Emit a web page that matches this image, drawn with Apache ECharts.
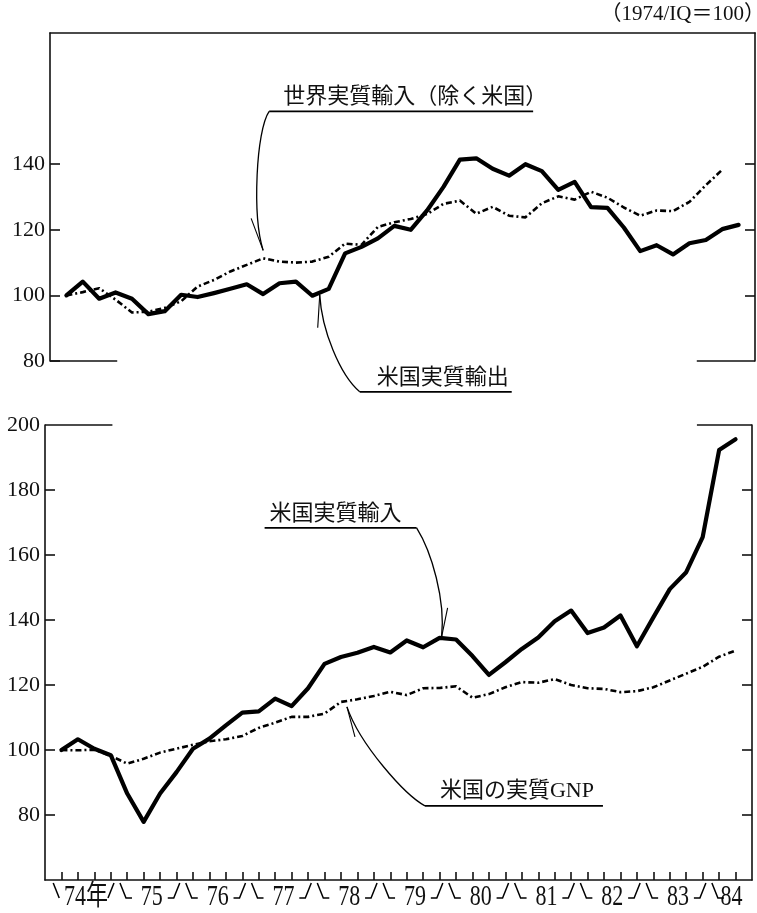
<!DOCTYPE html>
<html><head><meta charset="utf-8">
<script src="https://cdn.jsdelivr.net/npm/echarts@6/dist/echarts.min.js"></script>
<style>html,body{margin:0;padding:0;background:#fff}#c{width:757px;height:913px}</style>
</head><body><div id="c"></div>
<script>
// Quarterly data, 1974 Q1 = 100
const quarters = ['74Q1','74Q2','74Q3','74Q4','75Q1','75Q2','75Q3','75Q4','76Q1','76Q2','76Q3','76Q4',
  '77Q1','77Q2','77Q3','77Q4','78Q1','78Q2','78Q3','78Q4','79Q1','79Q2','79Q3','79Q4',
  '80Q1','80Q2','80Q3','80Q4','81Q1','81Q2','81Q3','81Q4','82Q1','82Q2','82Q3','82Q4',
  '83Q1','83Q2','83Q3','83Q4','84Q1','84Q2'];
// 米国実質輸出 (top, solid)
const usExports = [100,104.2,99,100.9,99,94.3,95.2,100.2,99.5,100.7,102,103.4,
  100.4,103.7,104.2,99.9,102,112.8,114.8,117.4,121.2,120,125.9,133.1,
  141.4,141.8,138.6,136.5,140,137.9,132.2,134.6,126.9,126.7,120.7,113.5,
  115.3,112.5,115.9,116.9,120.2,121.5];
// 世界実質輸入(除く米国) (top, dotted)
const worldImports = [100,101,102.2,98.7,94.8,95,96.2,98.2,102.7,104.7,107.3,109.3,
  111.3,110.3,110,110.3,111.8,115.8,115.4,120.9,122.3,123.3,124.8,127.9,
  128.9,124.9,127,124.3,123.8,128.1,130.2,129.2,131.6,129.8,126.8,124.3,
  125.9,125.7,128.5,133.6,138.3];
// 米国実質輸入 (bottom, solid)
const usImports = [100,103.3,100.4,98.4,86.6,77.9,86.6,93.2,100.4,103.5,107.6,111.5,
  111.9,115.8,113.5,119,126.5,128.6,129.9,131.7,130,133.7,131.6,134.5,
  134,128.9,123.1,127,131.1,134.6,139.6,142.9,136,137.7,141.4,131.9,
  140.8,149.5,154.7,165.5,192.3,195.6];
// 米国の実質GNP (bottom, dotted)
const usGNP = [100,99.9,100.1,98.2,95.8,97.3,99.2,100.4,101.6,102.7,103.3,104.3,
  106.8,108.4,110.2,110.2,111.2,114.8,115.6,116.6,117.9,116.9,119,119.1,
  119.6,116.1,117.2,119.3,120.9,120.7,121.8,120,119,118.8,117.8,118.1,
  119.3,121.4,123.5,125.6,128.7,130.6];
const yearLabels = ['74年','75','76','77','78','79','80','81','82','83','84'];
const topTicks = [80,100,120,140];
const topRightTicks = [100,120,140];
const bottomTicks = [80,100,120,140,160,180];
const bottomLabels = [80,100,120,140,160,180,200];

const INK = '#111';
const SERIF = '"Liberation Serif","Noto Sans CJK JP",serif';
const qIdx = quarters.map((q, i) => i);
const pairs = arr => arr.map((v, i) => [i, v]);
const axisLineStyle = {color: INK, width: 1.6};
const solidStyle = {color: '#000', width: 4.2, join: 'round', cap: 'round'};
const dotStyle = {color: '#000', width: 2.6, type: [6, 3, 2, 3], join: 'round'};
const stubStyle = {color: INK, width: 1.6, type: 'solid'};

const chart = echarts.init(document.getElementById('c'), null, {renderer: 'canvas'});

function yAxisDef(grid, pos, min, max, ticks, labels) {
  return {
    type: 'value', gridIndex: grid, position: pos, min: min, max: max, interval: 20,
    axisLine: {show: true, onZero: false, lineStyle: axisLineStyle},
    axisTick: {show: true, inside: true, length: 10, customValues: ticks, lineStyle: axisLineStyle},
    axisLabel: labels ? {show: true, customValues: labels, color: INK, fontSize: 22, fontFamily: SERIF, margin: 5,
      formatter: v => labels.indexOf(v) >= 0 ? String(v) : ''} : {show: false},
    splitLine: {show: false}
  };
}

const option = {
  animation: false,
  backgroundColor: '#fff',
  title: {text: '（1974/IQ＝100）', right: -8, top: 4, padding: 0,
    textStyle: {fontSize: 21, fontWeight: 'normal', color: INK, fontFamily: SERIF}},
  grid: [
    {left: 50, right: 2, top: 33, height: 328},
    {left: 45, right: 5, top: 425, height: 455}
  ],
  xAxis: [
    {type: 'value', gridIndex: 0, min: -1, max: 42, position: 'top',
      axisLine: {show: true, onZero: false, lineStyle: axisLineStyle},
      axisTick: {show: false}, axisLabel: {show: false}, splitLine: {show: false}},
    {type: 'value', gridIndex: 1, min: -1, max: 42, position: 'bottom',
      axisLine: {show: true, onZero: false, lineStyle: axisLineStyle},
      axisTick: {show: true, inside: true, length: 8, customValues: qIdx, lineStyle: axisLineStyle},
      axisLabel: {show: false}, splitLine: {show: false}}
  ],
  yAxis: [
    yAxisDef(0, 'left', 80, 180, topTicks, topTicks),
    yAxisDef(0, 'right', 80, 180, topRightTicks, null),
    yAxisDef(1, 'left', 60, 200, bottomTicks, bottomLabels),
    yAxisDef(1, 'right', 60, 200, bottomTicks, null)
  ],
  series: [
    {name: '世界実質輸入(除く米国)', type: 'line', xAxisIndex: 0, yAxisIndex: 0, data: pairs(worldImports),
      showSymbol: false, lineStyle: dotStyle, z: 2},
    {name: '米国実質輸出', type: 'line', xAxisIndex: 0, yAxisIndex: 0, data: pairs(usExports),
      showSymbol: false, lineStyle: solidStyle, z: 3,
      markLine: {silent: true, symbol: 'none', label: {show: false}, lineStyle: stubStyle,
        data: [[{coord: [-1, 80]}, {coord: [3.1, 80]}], [{coord: [38.45, 80]}, {coord: [42, 80]}]]}},
    {name: '米国の実質GNP', type: 'line', xAxisIndex: 1, yAxisIndex: 2, data: pairs(usGNP),
      showSymbol: false, lineStyle: dotStyle, z: 2},
    {name: '米国実質輸入', type: 'line', xAxisIndex: 1, yAxisIndex: 2, data: pairs(usImports),
      showSymbol: false, lineStyle: solidStyle, z: 3,
      markLine: {silent: true, symbol: 'none', label: {show: false}, lineStyle: stubStyle,
        data: [[{coord: [-1, 200]}, {coord: [3.1, 200]}], [{coord: [38.65, 200]}, {coord: [42, 200]}]]}},
    {type: 'custom', xAxisIndex: 1, yAxisIndex: 2, clip: false, silent: true,
      data: yearLabels.map((y, k) => [k === yearLabels.length - 1 ? 40.75 : 4 * k + 1.5, 60, k]),
      renderItem: function (params, api) {
        const k = api.value(2);
        const last = yearLabels.length - 1;
        const c = api.coord([api.value(0), 60]);
        const A = c[1];
        const L = api.coord([4 * k - 0.5, 60])[0];
        const R = api.coord([Math.min(4 * k + 3.5, 42), 60])[0];
        const top = A + 3, bot = A + 18;
        const ls = {stroke: '#000', lineWidth: 1.5, fill: null};
        const children = [{
          type: 'text', x: c[0], y: A + 17, scaleY: 1.3,
          style: {text: yearLabels[k], x: 0, y: 0, align: 'center', verticalAlign: 'middle',
            fontSize: 22, fontFamily: SERIF, fill: INK}
        }];
        const lp = k === 0 ? [[L, top], [L + 6, bot]] : [[L + 1, top], [L + 7, bot], [L + 13, bot]];
        children.push({type: 'polyline', shape: {points: lp}, style: ls});
        if (k !== last) {
          const rp = k === 0 ? [[R - 11, bot], [R - 5, top]] : [[R - 17, bot], [R - 11, bot], [R - 5, top]];
          children.push({type: 'polyline', shape: {points: rp}, style: ls});
        }
        return {type: 'group', children: children};
      }
    }
  ]
};
chart.setOption(option);

// Annotations anchored to data points (offsets in px relative to the anchor)
const notes = [
  {text: '世界実質輸入（除く米国）', grid: 0, i: 12, arr: worldImports,
    end: [0, -8], start: [6, -147], c1: [-7, -128], c2: [-11, -43], barb: [-12, -40], ul: [6, 270], tx: [20, -161]},
  {text: '米国実質輸出', grid: 0, i: 16, arr: usExports,
    end: [-9, 6], start: [31, 103], c1: [11, 86], c2: [-7, 41], barb: [-11, 39], ul: [31, 183], tx: [48, 89]},
  {text: '米国実質輸入', grid: 1, i: 23, arr: usImports,
    end: [2, -1], start: [-23, -110], c1: [-8, -86], c2: [6, -38], barb: [8, -30], ul: [-175, -23], tx: [-170, -124]},
  {text: '米国の実質GNP', grid: 1, i: 17, arr: usGNP,
    end: [6, 5], start: [84, 104], c1: [64, 93], c2: [19, 43], barb: [14, 35], ul: [84, 262], tx: [99, 89]}
];
const graphics = [];
notes.forEach(n => {
  const P = chart.convertToPixel({xAxisIndex: n.grid, yAxisIndex: n.grid === 0 ? 0 : 2}, [n.i, n.arr[n.i]]);
  const at = d => [P[0] + d[0], P[1] + d[1]];
  const E = at(n.end), S = at(n.start), C1 = at(n.c1), C2 = at(n.c2), B = at(n.barb);
  graphics.push({type: 'bezierCurve', silent: true,
    shape: {x1: S[0], y1: S[1], cpx1: C1[0], cpy1: C1[1], cpx2: C2[0], cpy2: C2[1], x2: E[0], y2: E[1]},
    style: {stroke: '#000', lineWidth: 1.3, fill: null}});
  graphics.push({type: 'line', silent: true, shape: {x1: B[0], y1: B[1], x2: E[0], y2: E[1]},
    style: {stroke: '#000', lineWidth: 1.1}});
  graphics.push({type: 'line', silent: true,
    shape: {x1: P[0] + n.ul[0], y1: S[1], x2: P[0] + n.ul[1], y2: S[1]},
    style: {stroke: '#000', lineWidth: 1.6}});
  graphics.push({type: 'text', silent: true, x: P[0] + n.tx[0], y: P[1] + n.tx[1],
    style: {text: n.text, x: 0, y: 0, align: 'left', verticalAlign: 'middle',
      fontSize: 22, fontFamily: SERIF, fill: INK}});
});
chart.setOption({graphic: graphics});
</script>
</body></html>
